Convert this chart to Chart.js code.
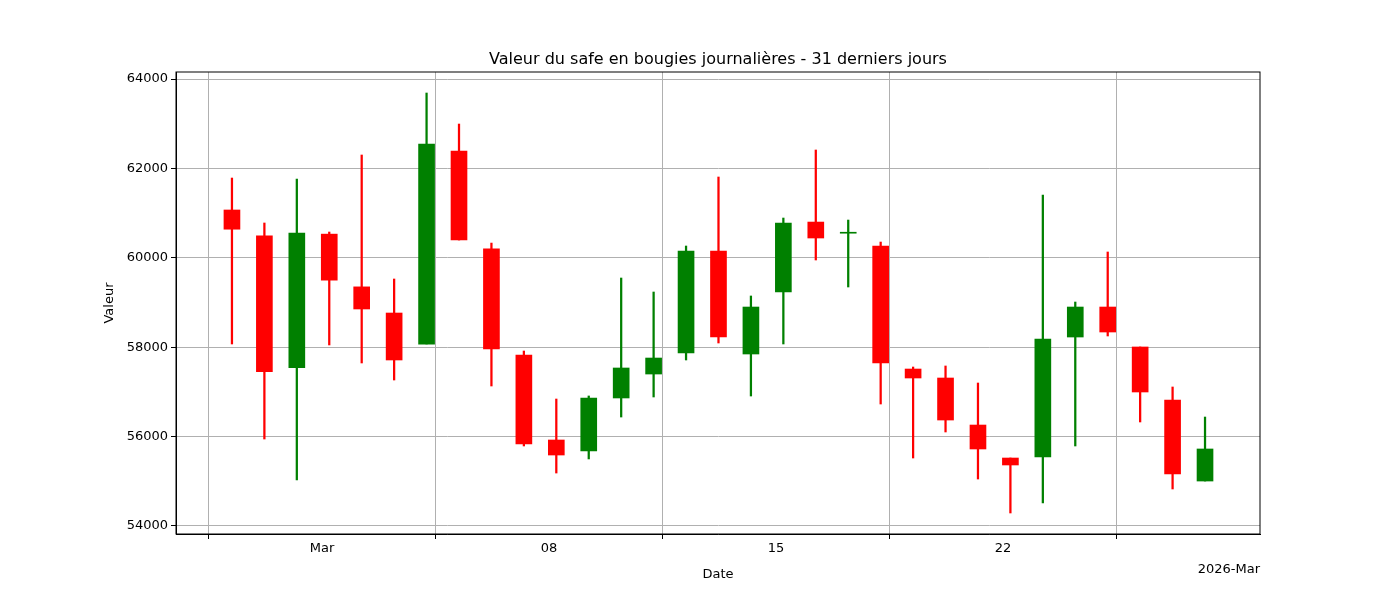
<!DOCTYPE html>
<html><head><meta charset="utf-8">
<script src="https://cdn.jsdelivr.net/npm/chart.js@4.4.1/dist/chart.umd.min.js"></script>
<style>html,body{margin:0;background:#fff}#w{width:1400px;height:600px}</style>
</head><body><div id="w"><canvas id="c"></canvas></div>
<script>
// day index relative to Mar 1 (Feb 26 = -3 ... Mar 28 = 27)
const days = [-3,-2,-1,0,1,2,3,4,5,6,7,8,9,10,11,12,13,14,15,16,17,18,19,20,21,22,23,24,25,26,27];
const opens  = [61070,60490,57540,60530,59350,58765,58070,62390,60200,57825,55924,55678,56864,57400,57870,60152,57848,59235,60800,60550,60264,57512,57311,56259,55521,55543,58228,58899,58005,56819,55006];
const closes = [60640,57450,60555,59500,58855,57714,62545,60398,57960,55834,55588,56864,57535,57758,60152,58228,58899,60779,60443,60560,57647,57311,56371,55723,55365,58183,58899,58340,56998,55164,55723];
const highs  = [61785,60779,61763,60577,62300,59526,63687,62993,60330,57915,56841,56909,59548,59235,60264,61808,59146,60890,62412,60845,60353,57557,57580,57199,55521,61405,59011,60130,58005,57110,56438];
const lows   = [58072,55946,55030,58050,57647,57266,58072,60398,57132,55790,55185,55500,56438,56886,57714,58094,56908,58072,59951,59347,56729,55521,56103,55051,54291,54515,55790,58251,56327,54828,55006];
const yTicks = [54000,56000,58000,60000,62000,64000];
const xTicks = [0,7,14,21];
const xTickLabels = ['Mar','08','15','22'];
const timeOffset = 0.225;

const col = opens.map((o,i)=> closes[i]>=o ? 'green' : 'red');
const bodies = days.map((d,i)=>({x:d+timeOffset, y:[opens[i],closes[i]]}));
const wicks = days.map((d,i)=>({x:d+timeOffset, y:[lows[i],highs[i]]}));
const F = 'DejaVu Sans';
Chart.defaults.font.family = F;
Chart.defaults.color = '#000';

const textPlugin = {
  id:'txt',
  afterDraw(ch){
    const c = ch.ctx, a = ch.chartArea;
    c.save(); c.fillStyle='#000';
    c.font = '16px "'+F+'"'; c.textAlign='center'; c.textBaseline='alphabetic';
    c.fillText('Valeur du safe en bougies journalières - 31 derniers jours',(a.left+a.right)/2,a.top-8);
    c.font = '13px "'+F+'"';
    c.fillText('Date',(a.left+a.right)/2,a.bottom+44);
    c.textAlign='right';
    c.fillText('2026-Mar',a.right,a.bottom+39);
    c.translate(113,(a.top+a.bottom)/2); c.rotate(-Math.PI/2);
    c.textAlign='center'; c.fillText('Valeur',0,0);
    c.restore();
  }
};

new Chart(document.getElementById('c'),{
  type:'bar',
  data:{datasets:[
    {data:wicks, backgroundColor:col, barThickness:1.6, grouped:false, order:2},
    {data:bodies, backgroundColor:col, barThickness:16, grouped:false, minBarLength:1, order:1}
  ]},
  options:{
    responsive:true, maintainAspectRatio:false, animation:false,
    layout:{padding:{top:72,right:140,left:0,bottom:0}},
    plugins:{legend:{display:false},tooltip:{enabled:false}},
    scales:{
      x:{type:'linear', min:-4.5, max:28.92, offset:false,
        afterFit(s){s.height=66;},
        afterBuildTicks(s){s.ticks=xTicks.map(v=>({value:v}));},
        ticks:{autoSkip:false, maxRotation:0, font:{size:13}, padding:2,
          callback:(v)=>xTickLabels[xTicks.indexOf(v)] ?? ''},
        grid:{color:'#b0b0b0', tickColor:'#000', tickLength:5, lineWidth:1},
        border:{color:'#000'}},
      y:{min:53821, max:64157,
        afterFit(s){s.width=176;},
        afterBuildTicks(s){s.ticks=yTicks.map(v=>({value:v}));},
        ticks:{font:{size:13}, padding:3, callback:v=>String(v)},
        grid:{color:'#b0b0b0', tickColor:'#000', tickLength:5, lineWidth:1},
        border:{color:'#000'}}
    }
  },
  plugins:[textPlugin, {id:'frame',afterDraw(ch){const c=ch.ctx,a=ch.chartArea;c.save();c.strokeStyle='#000';c.lineWidth=1;c.strokeRect(a.left,a.top,a.right-a.left,a.bottom-a.top);c.restore();}}]
});
</script></body></html>
